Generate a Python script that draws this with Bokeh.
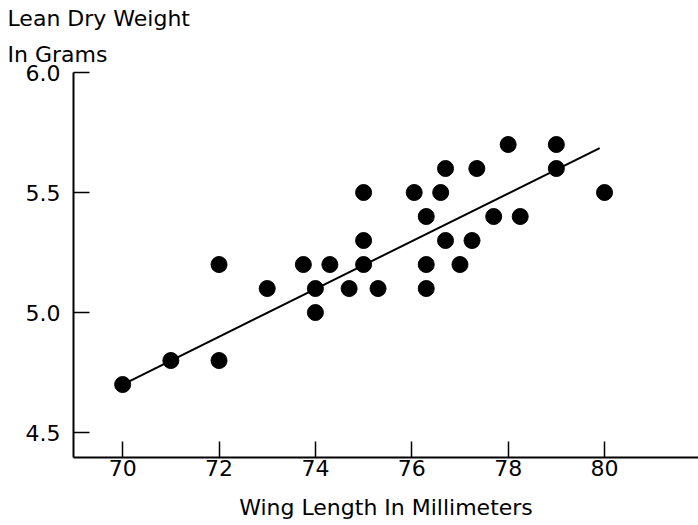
from bokeh.plotting import figure
from bokeh.models import Range1d, FixedTicker, Title
from bokeh.embed import file_html
from bokeh.resources import INLINE

# Data
wing_mm = [70, 71, 72, 72, 73, 73.75, 74, 74, 74.3, 74.7, 75, 75, 75, 75.3,
           76.05, 76.3, 76.3, 76.3, 76.6, 76.7, 76.7, 77.0, 77.25, 77.35,
           77.7, 78, 78.25, 79, 79, 80]
weight_g = [4.7, 4.8, 5.2, 4.8, 5.1, 5.2, 5.1, 5.0, 5.2, 5.1, 5.5, 5.3, 5.2, 5.1,
            5.5, 5.4, 5.2, 5.1, 5.5, 5.6, 5.3, 5.2, 5.3, 5.6,
            5.4, 5.7, 5.4, 5.7, 5.6, 5.5]
fit_x = [70, 79.9]
fit_y = [4.70, 5.685]
x_ticks = [70, 72, 74, 76, 78, 80]
y_ticks = [4.5, 5.0, 5.5, 6.0]
y_tick_labels = {4.5: "4.5", 5.0: "5.0", 5.5: "5.5", 6.0: "6.0"}

FONT = "DejaVu Sans"

p = figure(width=698, height=525, output_backend="svg", toolbar_location=None,
           x_range=Range1d(68.98, 81.95), y_range=Range1d(4.396, 6.0),
           min_border_left=73, min_border_right=0, min_border_top=72,
           min_border_bottom=68)
p.outline_line_color = None
p.xgrid.visible = False
p.ygrid.visible = False
p.background_fill_color = "white"
p.border_fill_color = "white"

p.line(fit_x, fit_y, line_color="black", line_width=2)
p.scatter(wing_mm, weight_g, size=16, fill_color="black", line_color="black")

for ax in (p.xaxis[0], p.yaxis[0]):
    ax.axis_line_width = 2
    ax.axis_line_color = "black"
    ax.major_tick_line_width = 1.5
    ax.major_tick_line_color = "black"
    ax.major_tick_in = 16
    ax.major_tick_out = 0
    ax.minor_tick_line_color = None
    ax.major_label_text_font = FONT
    ax.major_label_text_font_size = "22px"
    ax.major_label_text_color = "black"

p.xaxis.ticker = FixedTicker(ticks=x_ticks)
p.xaxis.major_label_standoff = 2
p.xaxis.axis_label = "Wing Length In Millimeters"
p.xaxis.axis_label_text_font = FONT
p.xaxis.axis_label_text_font_size = "22px"
p.xaxis.axis_label_text_font_style = "normal"
p.xaxis.axis_label_text_color = "black"
p.xaxis.axis_label_standoff = 16

p.yaxis.ticker = FixedTicker(ticks=y_ticks)
p.yaxis.major_label_overrides = y_tick_labels
p.yaxis.major_label_standoff = 13

# y-axis title, written horizontally above the plot in two lines
p.title.text = "Lean Dry Weight"
p.title.align = "left"
p.title.offset = -66
p.title.standoff = 6
p.title.text_font = FONT
p.title.text_font_size = "22px"
p.title.text_font_style = "normal"
p.title.text_color = "black"
p.add_layout(Title(text="In Grams", align="left", offset=-66, standoff=12,
                   text_font=FONT, text_font_size="22px",
                   text_font_style="normal", text_color="black"), "above")

open("out.html", "w").write(file_html(p, INLINE))
